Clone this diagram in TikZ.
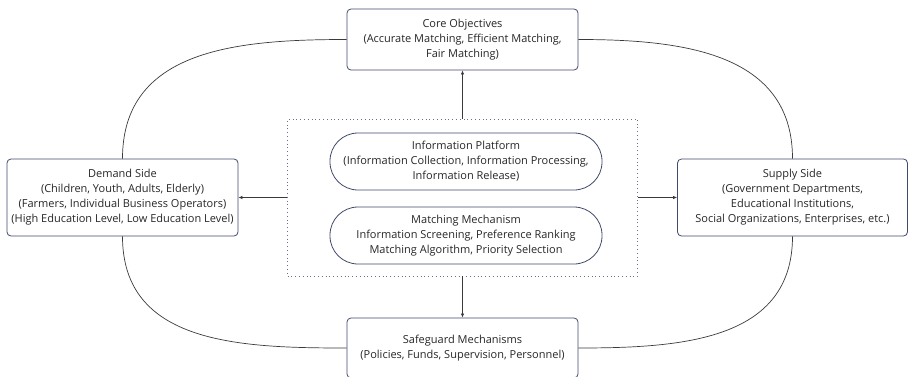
\documentclass[tikz,border=0pt]{standalone}
\usepackage{fontspec}
\setmainfont{Open Sans}
\usetikzlibrary{arrows.meta}
\definecolor{boxline}{HTML}{414B6B}
\definecolor{linkline}{HTML}{3A3A3A}
\definecolor{textgray}{HTML}{262626}

\tikzset{
    side node/.style={rectangle,draw=boxline,line width=0.8pt,rounded corners=4,
        align=center,text=textgray,font=\fontsize{11}{15}\selectfont,
        minimum width=231,minimum height=61,inner sep=1},
    pill node/.style={rectangle,draw=boxline,line width=0.8pt,rounded corners=28,
        align=center,text=textgray,font=\fontsize{11}{15}\selectfont,
        minimum width=272,minimum height=57,inner sep=1},
    frame node/.style={rectangle,draw=boxline!80,line width=0.8pt,
        dash pattern=on 0.8pt off 3pt,
        minimum width=350,minimum height=157},
    link/.style={draw=linkline,line width=0.7pt},
    flow/.style={link,-{Latex[length=4pt,width=3.5pt]}}
    }

\begin{document}
\begin{tikzpicture}[x=1pt,y=1pt]
    \useasboundingbox (0,0) rectangle (908,376);
    % The outer boxes
    \node(core)[side node] at (462.5,336.5)
        {Core Objectives\\(Accurate Matching, Efficient Matching,\\Fair Matching)};
    \node(demand)[side node,minimum height=77] at (122.5,178.5)
        {Demand Side\\(Children, Youth, Adults, Elderly)\\(Farmers, Individual Business Operators)\\(High Education Level, Low Education Level)};
    \node(supply)[side node,minimum width=230,minimum height=77] at (792.5,178.5)
        {Supply Side\\(Government Departments,\\Educational Institutions,\\Social Organizations, Enterprises, etc.)};
    \node(safe)[side node,minimum height=60] at (462.5,28)
        {Safeguard Mechanisms\\(Policies, Funds, Supervision, Personnel)};
    % The platform in the middle
    \node(platform)[frame node] at (462.5,178.5){};
    \node(info)[pill node] at (466,214.5)
        {Information Platform\\(Information Collection, Information Processing,\\Information Release)};
    \node(match)[pill node] at (466,140.5)
        {Matching Mechanism\\Information Screening, Preference Ranking\\Matching Algorithm, Priority Selection};
    % Arrows out of the platform
    \draw[flow] (platform.north) -- (core.south);
    \draw[flow] (platform.south) -- (safe.north);
    \draw[flow] (platform.west) -- (demand.east);
    \draw[flow] (platform.east) -- (supply.west);
    % The ring of curves
    \draw[link] (core.west) to[out=180,in=90,looseness=1.1] (demand.north);
    \draw[link] (core.east) to[out=0,in=90,looseness=1.1] (supply.north);
    \draw[link] (demand.south) to[out=-90,in=180,looseness=1.1] (safe.west);
    \draw[link] (supply.south) to[out=-90,in=0,looseness=1.1] (safe.east);
\end{tikzpicture}
\end{document}
